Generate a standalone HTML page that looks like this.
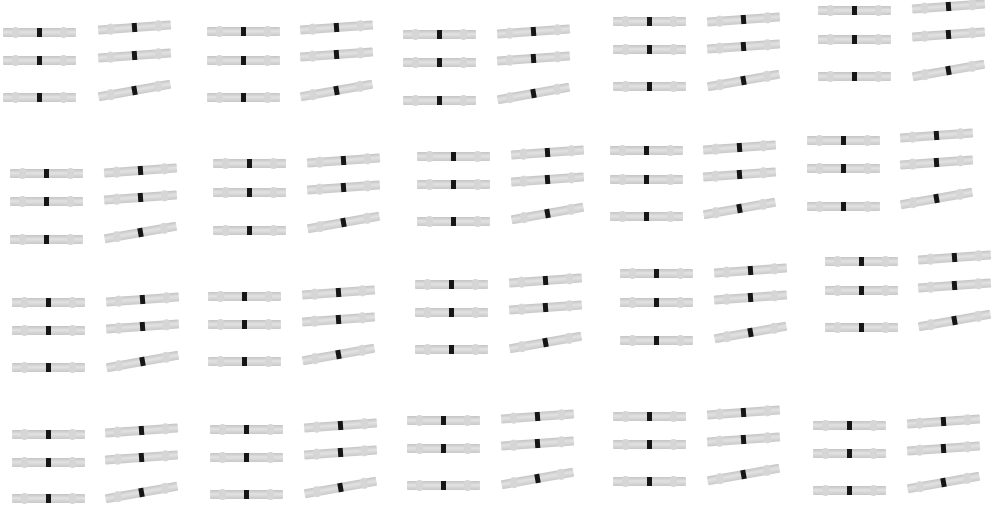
<!DOCTYPE html>
<html><head><meta charset="utf-8"><style>
html,body{margin:0;padding:0;background:#fff;width:1000px;height:505px;overflow:hidden;position:relative}
.t{position:absolute;width:73px;height:9px;background:linear-gradient(#c4c4c4,#e2e2e2 45%,#c9c9c9);border-radius:1px;transform-origin:50% 50%}
.t:before{content:"";position:absolute;left:34px;top:0;width:5px;height:9px;background:#161616}
.t i{position:absolute;top:-1px;width:7px;height:11px;background:#d6d6d6;border-radius:3px}
</style></head><body>
<div id="c"></div>
<script>
var rows=[
 {lx:[3,207,403,613,818],rx:[98,300,497,707,912],ly:[[32,60,97],[31,60,97],[34,62,100],[21,49,86],[10,39,76]],ry:[[27,55,90],[27,54,90],[31,58,93],[19,46,80],[6,34,70]]},
 {lx:[10,213,417,610,807],rx:[104,307,511,703,900],ly:[[173,201,239],[163,192,230],[156,184,221],[150,179,216],[140,168,206]],ry:[[170,197,232],[160,187,222],[152,179,213],[147,174,208],[135,162,198]]},
 {lx:[12,208,415,620,825],rx:[106,302,509,714,918],ly:[[302,330,367],[296,324,361],[284,312,349],[273,302,340],[261,290,327]],ry:[[299,326,361],[292,319,354],[280,307,342],[270,297,332],[257,285,320]]},
 {lx:[12,210,407,613,813],rx:[105,304,501,707,907],ly:[[434,462,498],[429,457,494],[420,448,485],[416,444,481],[425,453,490]],ry:[[430,457,492],[425,452,487],[416,443,478],[412,439,474],[421,448,482]]}
];
var h='';
function tube(x,y,a){h+='<div class="t" style="left:'+x+'px;top:'+(y-4)+'px;transform:rotate('+a+'deg)"><i style="left:9px"></i><i style="left:57px"></i></div>';}
rows.forEach(function(r){for(var g=0;g<5;g++){for(var k=0;k<3;k++){tube(r.lx[g],r.ly[g][k],0);tube(r.rx[g],r.ry[g][k],k==2?-10:-4);}}});
document.getElementById('c').innerHTML=h;
</script>
</body></html>
